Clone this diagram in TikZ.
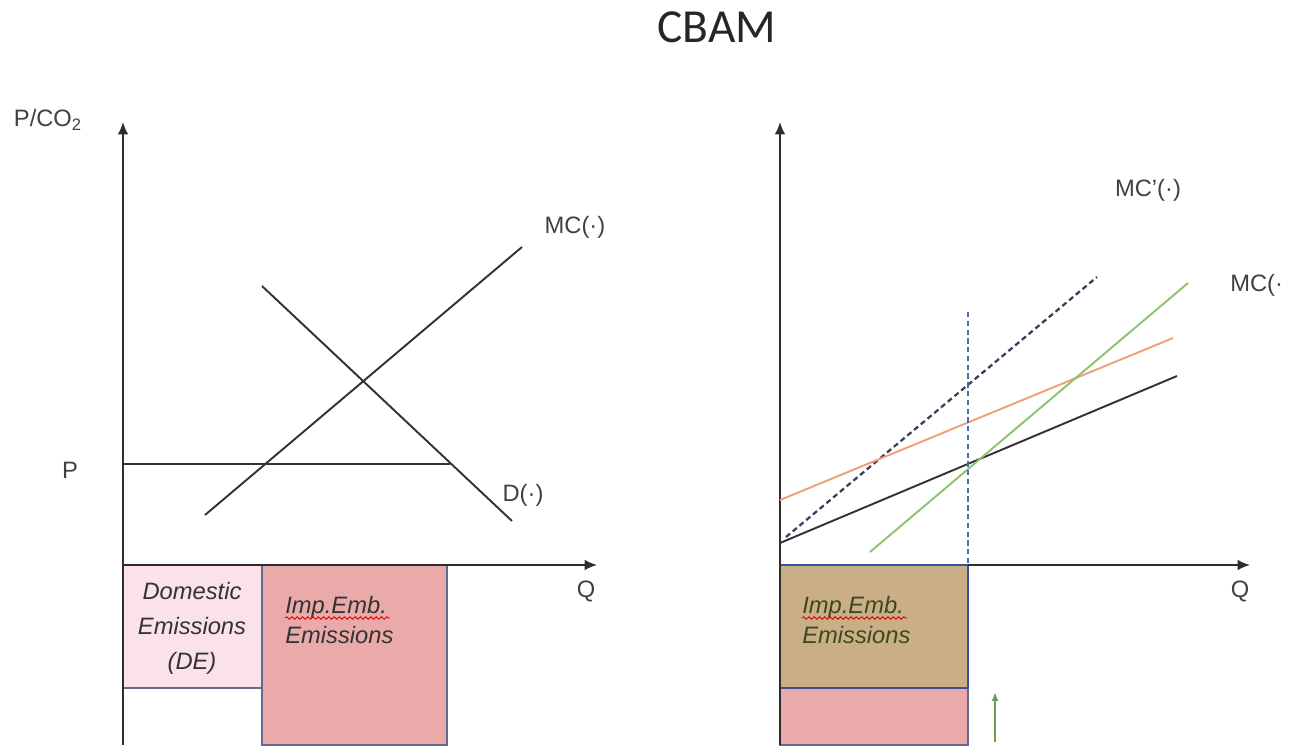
\documentclass[tikz,border=0pt]{standalone}
\usepackage{fontspec}
\setmainfont{Liberation Sans}
\newfontfamily\titlefont{Carlito}
\usetikzlibrary{arrows,arrows.meta,calc,decorations.pathmorphing}
\definecolor{AxisClr}{RGB}{45,45,45}
\definecolor{DomClr}{RGB}{251,226,232}
\definecolor{ImpClr}{RGB}{234,170,170}
\definecolor{TanClr}{RGB}{201,174,134}
\definecolor{EdgeClr}{RGB}{100,106,140}
\definecolor{BlueEdgeClr}{RGB}{60,80,150}
\definecolor{OrangeClr}{RGB}{240,160,120}
\definecolor{GreenClr}{RGB}{140,195,110}
\definecolor{DashClr}{RGB}{55,65,90}
\definecolor{VertClr}{RGB}{70,110,175}
\definecolor{OliveClr}{RGB}{60,72,30}

\begin{document}
\begin{tikzpicture}[x=0.02cm,y=-0.02cm,
  curve/.style={line width=1.1pt,color=black!80},
  axis/.style={line width=1pt,color=AxisClr,-{Latex[length=7pt,width=6pt]}},
  lbl/.style={font=\fontsize{13.5}{16}\selectfont,text=black!75,inner sep=0pt},
  boxtext/.style={font=\fontsize{13.5}{17}\selectfont\itshape,inner sep=0pt,align=left},
  spell/.style={draw=red!85!black,line width=0.5pt,decorate,
    decoration={snake,amplitude=0.7pt,segment length=3pt}}]
\useasboundingbox (0,0) rectangle (1296,747);

\coordinate (LO) at (123,565);
\coordinate (LTop) at (123,122);
\coordinate (LBot) at (123,745);
\coordinate (LEnd) at (597,565);
\coordinate (Pl) at (123,464);
\coordinate (Pr) at (450,464);
\coordinate (MCa) at (205,515);
\coordinate (MCb) at (522,247);
\coordinate (Da) at (262,286);
\coordinate (Db) at (512,521);

\coordinate (RO) at (780,565);
\coordinate (RTop) at (780,122);
\coordinate (RBot) at (780,745);
\coordinate (REnd) at (1250,565);
\coordinate (Ka) at (780,543);
\coordinate (Kb) at (1177,376);
\coordinate (Sa) at (786,537);
\coordinate (Sb) at (1097,277);
\coordinate (Oa) at (780,500);
\coordinate (Ob) at (1173,338);
\coordinate (Ga) at (870,552);
\coordinate (Gb) at (1188,283);
\coordinate (Va) at (968,312);
\coordinate (Vb) at (968,565);
\coordinate (Ua) at (995,742);
\coordinate (Ub) at (995,692);

\node[font=\titlefont\fontsize{27}{30}\selectfont,text=black!85] (title) at (717,27) {CBAM};

\filldraw[fill=DomClr,draw=EdgeClr,line width=0.8pt] (123,565) rectangle (262,688);
\filldraw[fill=ImpClr,draw=EdgeClr,line width=0.8pt] (262,565) rectangle (447,745);
\draw[axis] (LBot) -- (LTop);
\draw[axis] (LO) -- (LEnd);
\draw[curve] (Pl) -- (Pr);
\draw[curve] (MCa) -- (MCb);
\draw[curve] (Da) -- (Db);

\node[lbl] (pco) at (48,120) {P/CO\textsubscript{2}};
\node[lbl] (plab) at (70,470) {P};
\node[lbl] (qleft) at (586,591) {Q};
\node[lbl] (mcleft) at (575,227) {MC(·)};
\node[lbl] (dlab) at (523,495) {D(·)};
\node[boxtext,align=center,font=\fontsize{13.5}{20}\selectfont\itshape,text=black!80] (dom) at (192,628) {Domestic\\Emissions\\(DE)};
\node[boxtext,anchor=north west,text=black!80] (impl) at (285,596) {Imp.Emb.\\Emissions};
\draw[spell] (285,618) -- (390,618);

\fill[TanClr] (780,565) rectangle (968,688);
\filldraw[fill=ImpClr,draw=EdgeClr,line width=0.8pt] (780,688) rectangle (968,745);
\draw[BlueEdgeClr,line width=1.4pt] (780,565) rectangle (968,688);
\draw[axis] (RBot) -- (RTop);
\draw[axis] (Vb) -- (REnd);
\draw[curve] (Ka) -- (Kb);
\draw[DashClr,line width=1.3pt,dash pattern=on 3pt off 2pt] (Sa) -- (Sb);
\draw[OrangeClr,line width=1.1pt] (Oa) -- (Ob);
\draw[GreenClr,line width=1.1pt] (Ga) -- (Gb);
\draw[VertClr,line width=0.6pt,dash pattern=on 3pt off 2pt] (Va) -- (Vb);
\draw[GreenClr!80!black,line width=1pt,-{Latex[length=5pt,width=4pt]}] (Ua) -- (Ub);

\node[lbl] (qright) at (1240,591) {Q};
\node[lbl] (mcprime) at (1148,190) {MC'(·)};
\node[lbl,anchor=west] (mcright) at (1230,285) {MC(·};
\node[boxtext,anchor=north west,text=OliveClr] (impr) at (802,596) {Imp.Emb.\\Emissions};
\draw[spell] (802,618) -- (907,618);
\end{tikzpicture}
\end{document}
